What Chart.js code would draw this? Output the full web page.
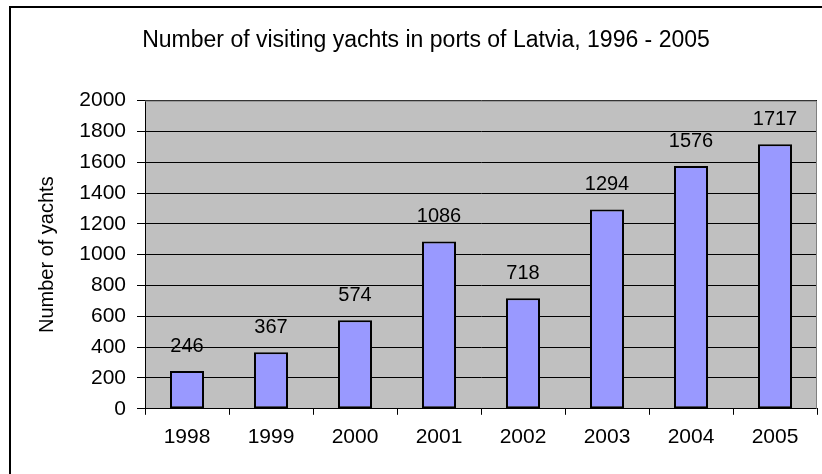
<!DOCTYPE html>
<html>
<head>
<meta charset="utf-8">
<script src="https://cdn.jsdelivr.net/npm/chart.js@4.4.1/dist/chart.umd.min.js"></script>
<style>
  html, body { margin: 0; padding: 0; background: #fff; overflow: hidden; }
  #wrap { position: relative; width: 822px; height: 474px; }
</style>
</head>
<body>
<div id="wrap"><canvas id="c" width="822" height="474"></canvas></div>
<script>
// Visiting yachts per year
const years = ['1998', '1999', '2000', '2001', '2002', '2003', '2004', '2005'];
const yachts = [246, 367, 574, 1086, 718, 1294, 1576, 1717];
const yMin = 0;
const yMax = 2000;
const yStep = 200;
const chartTitle = 'Number of visiting yachts in ports of Latvia, 1996 - 2005';
const yTitle = 'Number of yachts';

const FONT = '"Liberation Sans", Arial, Helvetica, sans-serif';

// Outer frame, grey plot area and its border
const framePlugin = {
  id: 'framePlugin',
  beforeDraw(chart) {
    const ctx = chart.ctx;
    const a = chart.chartArea;
    ctx.save();
    ctx.fillStyle = '#ffffff';
    ctx.fillRect(0, 0, chart.width, chart.height);
    ctx.strokeStyle = '#000000';
    ctx.lineWidth = 2;
    ctx.strokeRect(10, 7, chart.width + 20, chart.height + 20);
    ctx.fillStyle = '#c0c0c0';
    ctx.fillRect(a.left, a.top, a.right - a.left, a.bottom - a.top);
    ctx.restore();
  },
  beforeDatasetsDraw(chart) {
    const ctx = chart.ctx;
    const a = chart.chartArea;
    ctx.save();
    ctx.strokeStyle = '#808080';
    ctx.lineWidth = 1;
    ctx.beginPath();
    ctx.moveTo(a.left, a.top + 0.5);
    ctx.lineTo(a.right - 0.5, a.top + 0.5);
    ctx.lineTo(a.right - 0.5, a.bottom);
    ctx.stroke();
    ctx.restore();
  }
};

// Value printed above each bar
const valueLabels = {
  id: 'valueLabels',
  afterDatasetsDraw(chart) {
    const ctx = chart.ctx;
    const meta = chart.getDatasetMeta(0);
    ctx.save();
    ctx.fillStyle = '#000';
    ctx.font = '20px ' + FONT;
    ctx.textAlign = 'center';
    ctx.textBaseline = 'alphabetic';
    meta.data.forEach((bar, i) => {
      ctx.fillText(String(chart.data.datasets[0].data[i]), bar.x, bar.y - 19);
    });
    ctx.restore();
  }
};

new Chart(document.getElementById('c'), {
  type: 'bar',
  data: {
    labels: years,
    datasets: [{
      data: yachts,
      backgroundColor: '#9999ff',
      borderColor: '#000000',
      borderWidth: 2,
      borderSkipped: false,
      categoryPercentage: 1,
      barPercentage: 0.405
    }]
  },
  options: {
    responsive: false,
    devicePixelRatio: 1,
    animation: false,
    layout: { padding: { left: 35, right: 5, top: 0, bottom: 14 } },
    plugins: {
      legend: { display: false },
      tooltip: { enabled: false },
      title: {
        display: true,
        text: chartTitle,
        color: '#000',
        font: { family: FONT, size: 23, weight: 'normal', lineHeight: 1.2 },
        padding: { top: 27, bottom: 46 }
      }
    },
    scales: {
      x: {
        grid: {
          display: true,
          drawOnChartArea: false,
          drawTicks: true,
          tickLength: 6,
          color: '#000',
          offset: true
        },
        border: { display: true, color: '#000', width: 1 },
        ticks: {
          color: '#000',
          padding: 10,
          maxRotation: 0,
          font: { family: FONT, size: 21, lineHeight: 1.2 }
        }
      },
      y: {
        min: yMin,
        max: yMax,
        afterFit(scale) { scale.width = 110; },
        grid: {
          color: '#000',
          lineWidth: 1,
          drawTicks: true,
          tickLength: 8
        },
        border: { display: true, color: '#000', width: 1 },
        ticks: {
          stepSize: yStep,
          color: '#000',
          padding: 11,
          font: { family: FONT, size: 21, lineHeight: 1.2 },
          callback: (v) => String(v)
        },
        title: {
          display: true,
          text: yTitle,
          color: '#000',
          padding: 0,
          font: { family: FONT, size: 20, lineHeight: 1.2 }
        }
      }
    }
  },
  plugins: [framePlugin, valueLabels]
});
</script>
</body>
</html>
